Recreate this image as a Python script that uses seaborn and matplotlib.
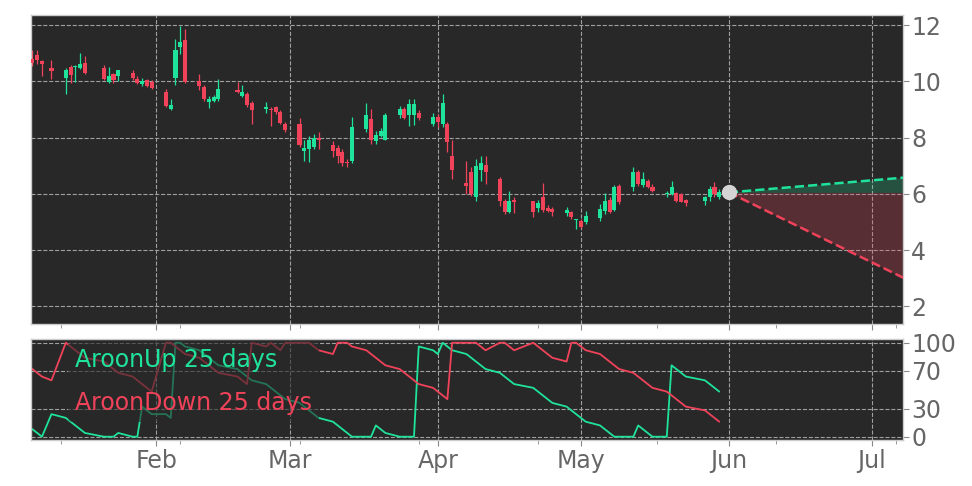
import pandas as pd
import numpy as np
import matplotlib
matplotlib.use("Agg")
import matplotlib.pyplot as plt
import matplotlib.dates as mdates
import seaborn as sns

# Colours
UP_COLOR = "#20e39b"
DOWN_COLOR = "#f0435a"
BG_COLOR = "#282828"
GRID_COLOR = "#a0a0a0"
TEXT_COLOR = "#666666"

# Trading days (2025, NYSE closures removed)
HOLIDAYS = ["2025-01-09", "2025-01-20", "2025-02-17", "2025-04-18", "2025-05-26"]
dates = pd.bdate_range("2025-01-06", "2025-05-30", freq="C", holidays=HOLIDAYS)

opens = [
    10.78, 10.93, 10.71, 10.49,
    10.13, 10.53, 10.53, 10.49, 10.65,
    10.48, 9.98, 10.25, 10.18,
    10.30, 10.08, 9.92, 10.04, 9.98,
    9.64, 9.03, 10.13, 11.22, 11.46,
    10.01, 9.80, 9.26, 9.32, 9.38,
    9.69, 9.48, 9.55, 9.23,
    9.03, 9.02, 9.08, 8.91, 8.49,
    8.49, 7.52, 7.58, 7.66, 7.99,
    7.72, 7.62, 7.48, 7.15, 7.18,
    8.31, 8.67, 7.87, 8.07, 7.92,
    8.79, 9.03, 8.82, 8.82, 8.89,
    8.47, 8.75, 8.47, 8.47, 7.36,
    6.37, 6.77, 5.90, 6.83, 7.04,
    6.53, 5.76, 5.34, 5.78,
    5.73, 5.48, 5.90, 5.48, 5.45,
    5.31, 5.34, 5.07, 5.04, 4.98,
    5.14, 5.38, 5.78, 5.43, 6.27,
    6.26, 6.77, 6.33, 6.45, 6.26,
    6.00, 6.00, 6.04, 6.00, 5.79,
    5.73, 5.88, 6.26, 5.88,
]
closes = [
    10.64, 10.75, 10.63, 10.37,
    10.42, 10.21, 10.56, 10.62, 10.31,
    10.10, 10.18, 10.04, 10.39,
    10.13, 9.96, 10.01, 9.85, 9.76,
    9.14, 9.17, 11.10, 11.39, 9.98,
    9.82, 9.38, 9.36, 9.43, 9.73,
    9.61, 9.61, 9.17, 8.97,
    9.08, 8.98, 8.91, 8.51, 8.28,
    7.72, 7.64, 7.90, 7.99, 7.92,
    7.52, 7.36, 7.10, 7.09, 8.37,
    8.82, 7.90, 8.11, 8.25, 8.79,
    9.03, 8.71, 9.21, 9.21, 8.71,
    8.75, 8.55, 9.23, 7.84, 6.83,
    6.29, 6.00, 7.00, 7.09, 6.77,
    5.76, 5.34, 5.73, 5.70,
    5.37, 5.67, 5.43, 5.40, 5.34,
    5.43, 5.16, 5.10, 4.83, 5.20,
    5.46, 5.76, 5.37, 6.23, 5.70,
    6.77, 6.35, 6.53, 6.26, 6.11,
    6.02, 6.23, 5.76, 5.72, 5.66,
    5.88, 6.17, 6.00, 6.08,
]
highs = [
    11.10, 11.13, 10.76, 10.77,
    10.47, 10.60, 10.60, 11.00, 10.89,
    10.60, 10.51, 10.30, 10.42,
    10.39, 10.18, 10.13, 10.10, 10.06,
    9.74, 9.38, 11.50, 11.98, 11.88,
    10.25, 9.86, 9.47, 9.50, 10.10,
    9.97, 9.86, 9.62, 9.32,
    9.26, 9.08, 9.14, 8.97, 8.55,
    8.68, 7.90, 8.07, 8.13, 8.19,
    7.87, 7.72, 7.61, 7.25, 8.73,
    9.23, 9.03, 8.25, 8.35, 8.87,
    9.14, 9.08, 9.38, 9.38, 8.97,
    8.87, 8.85, 9.54, 8.55, 7.90,
    7.16, 6.94, 7.24, 7.36, 7.36,
    6.60, 5.82, 6.09, 5.88,
    5.76, 5.78, 6.37, 5.61, 5.52,
    5.54, 5.40, 5.11, 5.10, 5.40,
    5.64, 6.02, 5.88, 6.33, 6.35,
    6.94, 6.83, 6.77, 6.53, 6.35,
    6.11, 6.45, 6.08, 6.02, 5.80,
    5.94, 6.29, 6.41, 6.17,
]
lows = [
    10.55, 10.63, 10.20, 10.10,
    9.54, 9.94, 9.98, 10.45, 10.27,
    10.04, 9.94, 9.94, 10.00,
    10.04, 9.92, 9.82, 9.80, 9.74,
    9.08, 8.97, 9.86, 10.99, 9.96,
    9.68, 9.32, 9.06, 9.26, 9.32,
    9.58, 9.44, 9.08, 8.49,
    8.87, 8.40, 8.85, 8.47, 8.19,
    7.66, 7.18, 7.15, 7.60, 7.60,
    7.30, 7.10, 7.00, 6.97, 7.08,
    8.19, 7.78, 7.78, 8.01, 7.90,
    8.71, 8.67, 8.43, 8.45, 8.61,
    8.40, 8.37, 8.37, 7.48, 6.53,
    6.00, 5.94, 5.76, 6.47, 6.35,
    5.55, 5.28, 5.30, 5.31,
    5.16, 5.34, 5.34, 5.34, 5.22,
    5.22, 5.10, 4.76, 4.78, 4.93,
    5.04, 5.28, 5.30, 5.40, 5.64,
    6.11, 6.29, 6.23, 6.21, 6.05,
    5.87, 5.97, 5.72, 5.70, 5.55,
    5.62, 5.76, 5.88, 5.82,
]

aroon_up = [
    8, 4, 0, 24,
    20, 16, 12, 8, 4,
    0, 0, 0, 4,
    0, 0, 32, 28, 24,
    24, 20, 100, 100, 96,
    92, 88, 84, 80, 76,
    72, 68, 64, 60,
    56, 52, 48, 44, 40,
    36, 32, 28, 24, 20,
    16, 12, 8, 4, 0,
    0, 0, 12, 8, 4,
    0, 0, 0, 0, 96,
    92, 88, 100, 96, 92,
    88, 84, 80, 76, 72,
    68, 64, 60, 56,
    52, 48, 44, 40, 36,
    32, 28, 24, 20, 16,
    12, 8, 4, 0, 0,
    0, 12, 8, 4, 0,
    0, 76, 72, 68, 64,
    60, 56, 52, 48,
]
aroon_down = [
    72, 68, 64, 60,
    100, 96, 92, 88, 84,
    80, 76, 72, 68,
    64, 60, 56, 52, 48,
    100, 100, 96, 92, 88,
    84, 80, 76, 72, 68,
    64, 60, 56, 100,
    96, 100, 96, 92, 100,
    100, 100, 100, 96, 92,
    88, 100, 100, 100, 96,
    92, 88, 84, 80, 76,
    72, 68, 64, 60, 56,
    52, 48, 44, 40, 100,
    100, 100, 100, 96, 92,
    100, 100, 96, 92,
    100, 96, 92, 88, 84,
    80, 100, 100, 96, 92,
    88, 84, 80, 76, 72,
    68, 64, 60, 56, 52,
    48, 44, 40, 36, 32,
    28, 24, 20, 16,
]

# Projection cone
forecast_dates = pd.to_datetime(["2025-06-01", "2025-07-08"])
forecast_base = [6.05, 6.05]
forecast_upper = [6.05, 6.58]
forecast_lower = [6.05, 2.98]

AROON_LABELS = ["AroonUp 25 days", "AroonDown 25 days"]
PRICE_TICKS = [2, 4, 6, 8, 10, 12]
AROON_TICKS = [0, 30, 70, 100]

# Style
sns.set_style("darkgrid", {
    "axes.facecolor": BG_COLOR,
    "axes.edgecolor": "#cccccc",
    "grid.color": GRID_COLOR,
    "grid.linestyle": "--",
})
plt.rcParams["font.family"] = ["DejaVu Sans"]
plt.rcParams["grid.linewidth"] = 0.8

fig = plt.figure(figsize=(9.72, 4.86), dpi=100)
ax = fig.add_axes([0.0319, 0.334, 0.897, 0.635])
ax2 = fig.add_axes([0.0319, 0.0937, 0.897, 0.2088], sharex=ax)

df = pd.DataFrame({"date": dates, "open": opens, "high": highs,
                   "low": lows, "close": closes})
df["up"] = df["close"] >= df["open"]
df["color"] = np.where(df["up"], UP_COLOR, DOWN_COLOR)
body_h = (df["close"] - df["open"]).abs().clip(lower=0.03)
body_bottom = df[["open", "close"]].min(axis=1)

# Candles
ax.vlines(df["date"], df["low"], df["high"], colors=df["color"], lw=0.9, zorder=2)
ax.bar(df["date"], body_h, bottom=body_bottom, width=0.85,
       color=df["color"], linewidth=0, zorder=3)

# Projection
ax.fill_between(forecast_dates, forecast_base, forecast_upper,
                color=UP_COLOR, alpha=0.22, linewidth=0, zorder=2)
ax.fill_between(forecast_dates, forecast_lower, forecast_base,
                color=DOWN_COLOR, alpha=0.24, linewidth=0, zorder=2)
sns.lineplot(x=forecast_dates, y=forecast_upper, ax=ax, color=UP_COLOR,
             lw=1.8, linestyle="--", zorder=4)
sns.lineplot(x=forecast_dates, y=forecast_lower, ax=ax, color=DOWN_COLOR,
             lw=1.8, linestyle="--", zorder=4)
ax.plot(forecast_dates[:1], forecast_base[:1], "o", color="#d4d4d4",
        markersize=10, zorder=5)

ax.set_ylim(1.38, 12.36)
ax.set_yticks(PRICE_TICKS)

# Aroon panel
sns.lineplot(x=dates, y=aroon_up, ax=ax2, color=UP_COLOR, lw=1.3, label=AROON_LABELS[0])
sns.lineplot(x=dates, y=aroon_down, ax=ax2, color=DOWN_COLOR, lw=1.3, label=AROON_LABELS[1])
ax2.set_ylim(-4, 104)
ax2.set_yticks(AROON_TICKS)
leg = ax2.legend(loc="upper left", bbox_to_anchor=(0.029, 1.10), handlelength=0,
                 handletextpad=0, labelcolor="linecolor", fontsize=17,
                 frameon=True, facecolor=BG_COLOR, edgecolor="none",
                 framealpha=0.6, borderpad=0.3, labelspacing=0.8)
for h in leg.legend_handles:
    h.set_visible(False)

ax.set_xlim(pd.Timestamp("2025-01-05 17:00"), pd.Timestamp("2025-07-07 12:00"))
minor_days = pd.date_range("2025-01-12", periods=8, freq="25D")
for a in (ax, ax2):
    a.xaxis.set_major_locator(mdates.MonthLocator())
    a.xaxis.set_major_formatter(mdates.DateFormatter("%b"))
    a.xaxis.set_minor_locator(matplotlib.ticker.FixedLocator(mdates.date2num(minor_days)))
    a.yaxis.tick_right()
    a.tick_params(axis="both", which="major", length=4, width=0.8, colors="#888888",
                  labelcolor=TEXT_COLOR, labelsize=17, bottom=True, right=True, pad=2)
    a.tick_params(axis="x", which="minor", length=3, width=0.6, colors="#888888", bottom=True)
    a.grid(True, which="major", color=GRID_COLOR, linestyle="--", linewidth=0.8)
    a.set_xlabel("")
    a.set_ylabel("")
    for s in a.spines.values():
        s.set_color("#cccccc")
        s.set_linewidth(1.0)
ax.tick_params(axis="x", labelbottom=False)

fig.savefig("out.png", dpi=100, facecolor="white")
